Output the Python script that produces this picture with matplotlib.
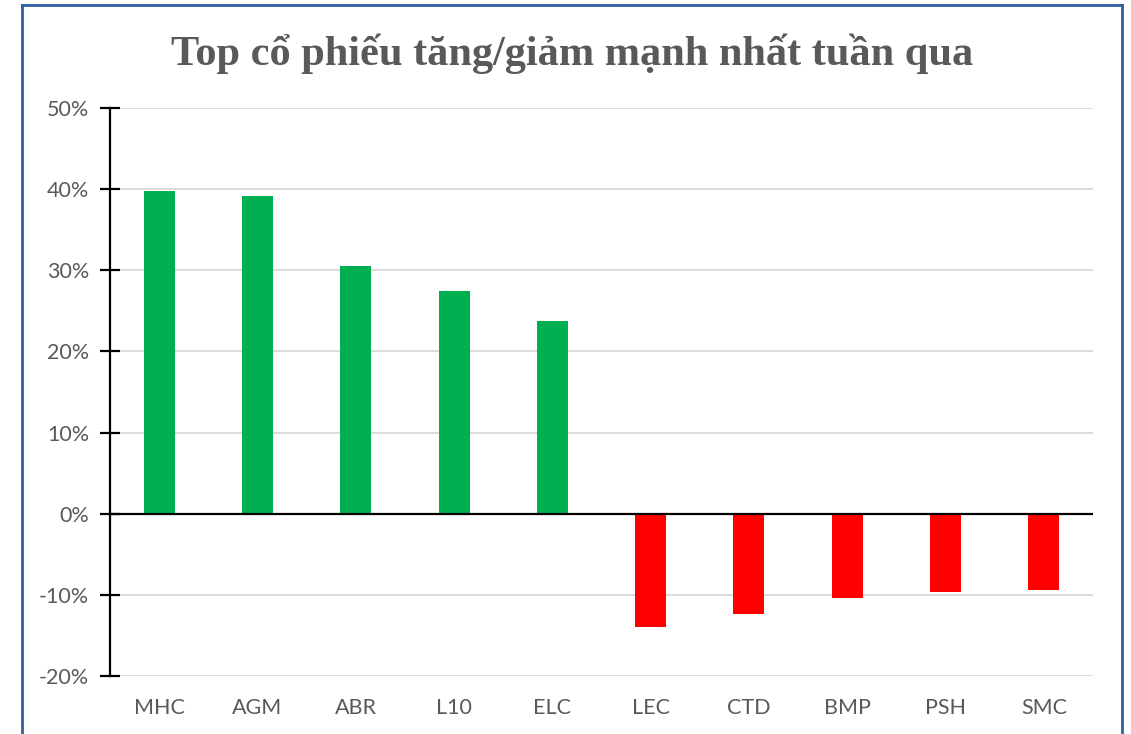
import matplotlib.pyplot as plt
from matplotlib.lines import Line2D
import numpy as np

# datos
ma_cp = ["MHC", "AGM", "ABR", "L10", "ELC", "LEC", "CTD", "BMP", "PSH", "SMC"]
thay_doi = [39.8, 39.2, 30.5, 27.5, 23.8, -13.9, -12.4, -10.4, -9.7, -9.4]
y_ticks = [-20, -10, 0, 10, 20, 30, 40, 50]
tieu_de = "Top cổ phiếu tăng/giảm mạnh nhất tuần qua"

W, H = 1131, 734
fig = plt.figure(figsize=(W / 100, H / 100), dpi=100)
ax = fig.add_axes([110 / W, 1 - 676 / H, (1093 - 110) / W, (676 - 108) / H])

x = np.arange(len(ma_cp))
colores = ["#00b050" if v >= 0 else "#ff0000" for v in thay_doi]
ax.bar(x, thay_doi, width=0.315, color=colores, zorder=3)

ax.set_xlim(-0.5, len(ma_cp) - 0.5)
ax.set_ylim(-20, 50)
ax.set_yticks(y_ticks)
ax.set_yticklabels([f"{v}%" for v in y_ticks])
ax.set_xticks(x)
ax.set_xticklabels(ma_cp)

# lineas de cuadricula
for v in y_ticks:
    if v != 0:
        ax.axhline(v, color="#d9d9d9", lw=1.3, zorder=1)
ax.axhline(0, color="black", lw=1.6, zorder=4)

for s in ["top", "right", "bottom"]:
    ax.spines[s].set_visible(False)
ax.spines["left"].set_color("black")
ax.spines["left"].set_linewidth(1.6)
ax.tick_params(axis="y", direction="inout", length=14, width=1.6, color="black",
               labelsize=15.5, labelcolor="#595959", pad=8)
ax.tick_params(axis="x", length=0, labelsize=15.5, labelcolor="#595959", pad=16)
for lab in ax.get_xticklabels() + ax.get_yticklabels():
    lab.set_family("Lato")

fig.text(572 / W, 1 - 54 / H, tieu_de, ha="center", va="center",
         fontsize=30.5, fontweight="bold", color="#595959", family="Liberation Serif")

# marco azul (sin borde inferior)
borde = "#2e5f9e"
fig.add_artist(Line2D([22 / W, 22 / W], [0, 1 - 5 / H], color=borde, lw=2, transform=fig.transFigure))
fig.add_artist(Line2D([1122 / W, 1122 / W], [0, 1 - 5 / H], color=borde, lw=2, transform=fig.transFigure))
fig.add_artist(Line2D([22 / W, 1122 / W], [1 - 5 / H, 1 - 5 / H], color=borde, lw=2, transform=fig.transFigure))

fig.savefig("out.png", dpi=100)
